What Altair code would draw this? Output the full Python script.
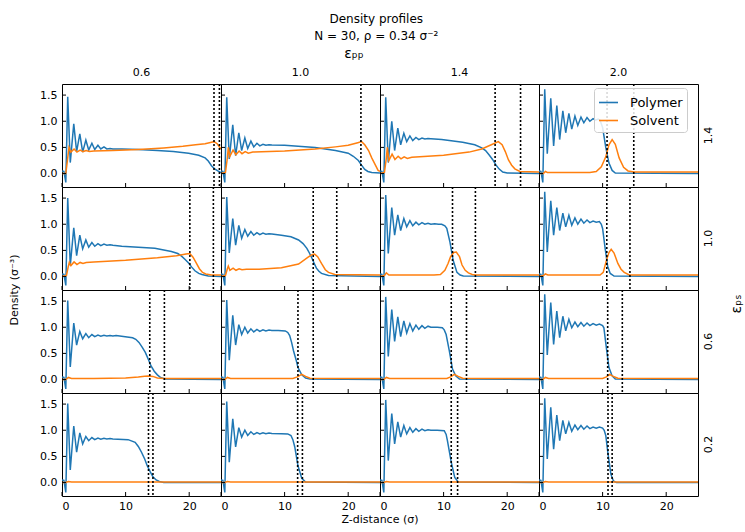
import altair as alt
import pandas as pd

PP = ["0.6", "1.0", "1.4", "2.0"]          # columns: epsilon_pp
PS = ["1.4", "1.0", "0.6", "0.2"]          # rows: epsilon_ps
SERIES = ["Polymer", "Solvent"]
COLORS = ["#1f77b4", "#ff7f0e"]
X_TICKS = [0, 10, 20]
Y_TICKS = [0.0, 0.5, 1.0, 1.5]

# near-wall z grid shared by all polymer profiles (peaks / troughs)
WALL_Z = [0.0, 0.3, 0.6, 0.9, 1.3, 1.85, 2.3, 2.8, 3.25, 3.75, 4.2, 4.7, 5.15, 5.65, 6.1, 6.6, 7.05, 7.55, 8.0]

POLY_WALL = {
    "1.4|0.6": [0.05, 0.04, -0.17, 1.47, 0.21, 0.95, 0.42, 0.76, 0.41, 0.64, 0.45, 0.58, 0.46, 0.54, 0.47, 0.51, 0.47, 0.48, 0.47],
    "1.4|1.0": [0.05, 0.04, -0.17, 1.46, 0.28, 0.93, 0.34, 0.78, 0.44, 0.68, 0.48, 0.62, 0.51, 0.58, 0.53, 0.56, 0.54, 0.55, 0.545],
    "1.4|1.4": [0.05, 0.04, -0.17, 1.46, 0.21, 1.00, 0.44, 0.87, 0.55, 0.77, 0.61, 0.72, 0.63, 0.69, 0.65, 0.68, 0.66, 0.67, 0.665],
    "1.4|2.0": [0.05, 0.04, -0.17, 1.61, 0.38, 1.44, 0.53, 1.30, 0.65, 1.20, 0.78, 1.15, 0.85, 1.10, 0.92, 1.08, 0.97, 1.07, 1.00],
    "1.0|0.6": [0.05, 0.04, -0.17, 1.50, 0.21, 0.93, 0.40, 0.79, 0.53, 0.70, 0.56, 0.65, 0.58, 0.63, 0.59, 0.62, 0.60, 0.61, 0.60],
    "1.0|1.0": [0.05, 0.04, -0.17, 1.52, 0.45, 1.11, 0.60, 0.98, 0.73, 0.90, 0.77, 0.86, 0.79, 0.84, 0.80, 0.83, 0.81, 0.82, 0.815],
    "1.0|1.4": [0.05, 0.04, -0.17, 1.56, 0.44, 1.32, 0.79, 1.18, 0.88, 1.11, 0.95, 1.07, 0.97, 1.04, 0.99, 1.03, 1.00, 1.02, 1.00],
    "1.0|2.0": [0.05, 0.04, -0.17, 1.62, 0.47, 1.45, 0.79, 1.32, 0.88, 1.21, 0.95, 1.17, 0.98, 1.12, 1.00, 1.10, 1.02, 1.08, 1.03],
    "0.6|0.6": [0.05, 0.04, -0.18, 1.51, 0.24, 1.08, 0.66, 0.92, 0.78, 0.88, 0.80, 0.86, 0.82, 0.85, 0.83, 0.845, 0.835, 0.84, 0.835],
    "0.6|1.0": [0.05, 0.04, -0.18, 1.52, 0.37, 1.23, 0.66, 1.05, 0.86, 1.00, 0.89, 0.97, 0.91, 0.96, 0.92, 0.95, 0.93, 0.945, 0.94],
    "0.6|1.4": [0.05, 0.04, -0.18, 1.58, 0.44, 1.34, 0.73, 1.20, 0.82, 1.12, 0.89, 1.07, 0.93, 1.04, 0.96, 1.03, 0.98, 1.02, 1.00],
    "0.6|2.0": [0.05, 0.04, -0.18, 1.63, 0.47, 1.47, 0.67, 1.31, 0.80, 1.21, 0.93, 1.15, 0.99, 1.10, 1.01, 1.09, 1.02, 1.08, 1.03],
    "0.2|0.6": [0.05, 0.04, -0.19, 1.51, 0.24, 1.08, 0.58, 0.95, 0.74, 0.88, 0.80, 0.86, 0.82, 0.85, 0.83, 0.845, 0.835, 0.84, 0.835],
    "0.2|1.0": [0.05, 0.04, -0.19, 1.55, 0.39, 1.22, 0.68, 1.05, 0.87, 1.00, 0.90, 0.97, 0.92, 0.955, 0.93, 0.95, 0.935, 0.945, 0.94],
    "0.2|1.4": [0.05, 0.04, -0.19, 1.58, 0.42, 1.32, 0.74, 1.16, 0.87, 1.09, 0.93, 1.05, 0.96, 1.03, 0.98, 1.02, 0.99, 1.01, 1.00],
    "0.2|2.0": [0.05, 0.04, -0.19, 1.61, 0.45, 1.44, 0.64, 1.29, 0.80, 1.19, 0.93, 1.15, 0.98, 1.10, 1.01, 1.09, 1.02, 1.08, 1.03],
}

POLY_TAIL_Z = {
    "1.4|0.6": [9.4, 12, 15, 17.5, 19.9, 21.5, 22.5, 23.0, 23.5, 24.0, 24.5, 25.0],
    "1.4|1.0": [10, 14.8, 18, 20.0, 20.8, 21.6, 22.1, 22.6, 23.1, 23.7, 25],
    "1.4|1.4": [9.7, 13, 14.9, 16.0, 16.6, 17.2, 17.7, 18.2, 18.7, 19.3, 20, 25],
    "1.4|2.0": [8.5, 8.9, 9.3, 9.6, 10.0, 10.5, 11.0, 11.5, 12.0, 25],
    "1.0|0.6": [9.4, 14.6, 17.2, 18.2, 18.8, 19.4, 19.9, 20.4, 20.9, 21.5, 22.0, 23.0, 25],
    "1.0|1.0": [9.5, 11, 12.2, 12.9, 13.5, 13.9, 14.3, 14.7, 15.0, 15.4, 15.8, 16.9, 25],
    "1.0|1.4": [8.6, 9.2, 9.7, 10.2, 10.5, 11.0, 11.5, 12.1, 12.6, 13.1, 25],
    "1.0|2.0": [8.5, 9.0, 9.5, 9.8, 10.0, 10.4, 10.8, 11.2, 11.8, 25],
    "0.6|0.6": [8.5, 11.1, 11.6, 12.1, 12.6, 13.1, 13.6, 14.0, 14.5, 15.0, 15.5, 16.2, 25],
    "0.6|1.0": [9.0, 10.1, 10.5, 10.8, 11.1, 11.4, 11.8, 12.1, 12.7, 13.3, 14.0, 25],
    "0.6|1.4": [9.0, 9.8, 10.1, 10.4, 10.9, 11.4, 11.9, 12.5, 25],
    "0.6|2.0": [8.5, 9.0, 9.5, 10.0, 10.2, 10.6, 11.0, 11.5, 12.0, 25],
    "0.2|0.6": [10.4, 11.5, 12.0, 12.5, 13.0, 13.4, 13.9, 14.3, 14.8, 15.3, 16.0, 25],
    "0.2|1.0": [9.5, 10.5, 11.0, 11.3, 11.6, 12.1, 12.7, 13.3, 25],
    "0.2|1.4": [9.0, 10.1, 10.4, 10.6, 11.2, 11.75, 12.3, 25],
    "0.2|2.0": [8.5, 9.0, 9.5, 10.0, 10.25, 10.5, 10.85, 11.3, 11.7, 12.2, 25],
}
POLY_TAIL_D = {
    "1.4|0.6": [0.47, 0.46, 0.44, 0.42, 0.39, 0.35, 0.30, 0.24, 0.15, 0.09, 0.05, 0.02],
    "1.4|1.0": [0.54, 0.50, 0.44, 0.39, 0.33, 0.25, 0.16, 0.08, 0.04, 0.02, 0.01],
    "1.4|1.4": [0.65, 0.60, 0.55, 0.49, 0.44, 0.35, 0.27, 0.17, 0.09, 0.03, 0.01, 0.0],
    "1.4|2.0": [1.05, 1.02, 1.04, 1.02, 0.88, 0.50, 0.20, 0.06, 0.01, 0.0],
    "1.0|0.6": [0.58, 0.54, 0.48, 0.44, 0.39, 0.32, 0.26, 0.18, 0.11, 0.06, 0.04, 0.01, 0.0],
    "1.0|1.0": [0.79, 0.76, 0.70, 0.63, 0.54, 0.45, 0.35, 0.24, 0.16, 0.10, 0.06, 0.02, 0.0],
    "1.0|1.4": [1.01, 1.0, 1.0, 0.97, 0.92, 0.66, 0.31, 0.08, 0.03, 0.01, 0.0],
    "1.0|2.0": [1.06, 1.04, 1.05, 1.0, 0.92, 0.54, 0.19, 0.06, 0.01, 0.0],
    "0.6|0.6": [0.84, 0.80, 0.77, 0.71, 0.62, 0.52, 0.38, 0.26, 0.16, 0.09, 0.04, 0.01, 0.0],
    "0.6|1.0": [0.94, 0.93, 0.90, 0.84, 0.71, 0.55, 0.38, 0.23, 0.09, 0.03, 0.01, 0.0],
    "0.6|1.4": [1.0, 0.99, 0.95, 0.86, 0.55, 0.20, 0.07, 0.01, 0.0],
    "0.6|2.0": [1.07, 1.04, 1.06, 1.03, 0.99, 0.60, 0.23, 0.07, 0.01, 0.0],
    "0.2|0.6": [0.82, 0.77, 0.69, 0.58, 0.45, 0.32, 0.20, 0.11, 0.05, 0.02, 0.0, 0.0],
    "0.2|1.0": [0.935, 0.93, 0.90, 0.82, 0.68, 0.32, 0.08, 0.01, 0.0],
    "0.2|1.4": [1.0, 0.99, 0.92, 0.80, 0.39, 0.10, 0.01, 0.0],
    "0.2|2.0": [1.06, 1.04, 1.06, 1.04, 1.0, 0.90, 0.55, 0.16, 0.03, 0.0, 0.0],
}

SOLV_Z = {
    "1.4|0.6": [0, 0.6, 0.9, 1.1, 1.4, 1.9, 2.35, 2.85, 3.3, 3.8, 4.3, 5, 8, 12, 16, 19, 21, 22.5, 23.5, 23.9, 24.4, 25],
    "1.4|1.0": [0, 0.7, 1.0, 1.15, 1.4, 1.9, 2.35, 2.85, 3.3, 3.8, 4.3, 5, 10, 14.8, 18, 20, 21.5, 22.1, 22.6, 23.2, 23.7, 24.2, 24.7, 25],
    "1.4|1.4": [0, 0.7, 1.0, 1.15, 1.4, 1.9, 2.35, 2.85, 3.3, 3.8, 4.3, 5, 10, 14, 16, 17.5, 18.6, 19.2, 19.7, 20.2, 20.7, 21.2, 22.0, 25],
    "1.4|2.0": [0, 0.7, 1.0, 1.3, 8.0, 9.0, 9.8, 10.5, 11.0, 11.5, 12.0, 12.6, 13.3, 14.0, 15, 25],
    "1.0|0.6": [0, 0.7, 1.0, 1.15, 1.4, 1.9, 2.35, 2.85, 3.3, 3.8, 5, 10, 15, 18, 19.5, 20.1, 20.6, 21.1, 21.6, 22.1, 22.6, 23.5, 25],
    "1.0|1.0": [0, 0.7, 1.0, 1.15, 1.4, 1.9, 2.35, 2.85, 3.3, 4, 6, 9.5, 12.2, 13.7, 14.3, 14.7, 15.2, 15.8, 16.4, 16.9, 17.9, 25],
    "1.0|1.4": [0, 0.7, 1.0, 1.4, 8.5, 9.5, 10.2, 10.7, 11.1, 11.6, 12.0, 12.5, 12.9, 13.4, 13.9, 14.5, 15, 25],
    "1.0|2.0": [0, 0.7, 1.0, 1.4, 9.6, 10.1, 10.6, 11.0, 11.35, 11.8, 12.4, 12.9, 13.4, 14.2, 25],
    "0.6|0.6": [0, 0.6, 1.0, 1.5, 5, 10, 12.0, 13.0, 13.6, 14.3, 15.0, 16.0, 25],
    "0.6|1.0": [0, 0.6, 1.0, 1.5, 11.3, 12.0, 12.7, 13.3, 14.0, 25],
    "0.6|1.4": [0, 0.6, 1.0, 1.5, 10.5, 11.1, 11.7, 12.3, 13.0, 25],
    "0.6|2.0": [0, 0.6, 1.0, 1.5, 10.0, 10.6, 11.1, 11.7, 12.4, 25],
    "0.2|0.6": [0, 0.6, 1.0, 1.5, 25],
    "0.2|1.0": [0, 0.6, 1.0, 1.5, 25],
    "0.2|1.4": [0, 0.6, 1.0, 1.5, 25],
    "0.2|2.0": [0, 0.6, 1.0, 1.5, 25],
}
SOLV_D = {
    "1.4|0.6": [0.0, 0.0, 0.3, 0.5, 0.41, 0.47, 0.41, 0.45, 0.42, 0.44, 0.42, 0.43, 0.44, 0.46, 0.49, 0.52, 0.55, 0.57, 0.60, 0.61, 0.57, 0.47],
    "1.4|1.0": [0.0, 0.02, 0.3, 0.5, 0.33, 0.45, 0.36, 0.43, 0.38, 0.42, 0.39, 0.41, 0.43, 0.47, 0.51, 0.54, 0.59, 0.61, 0.55, 0.44, 0.30, 0.18, 0.06, 0.04],
    "1.4|1.4": [0.0, 0.02, 0.3, 0.5, 0.25, 0.37, 0.27, 0.33, 0.28, 0.32, 0.29, 0.31, 0.35, 0.41, 0.47, 0.55, 0.61, 0.55, 0.42, 0.26, 0.16, 0.09, 0.04, 0.03],
    "1.4|2.0": [0.0, 0.0, 0.04, 0.02, 0.02, 0.04, 0.13, 0.32, 0.55, 0.65, 0.56, 0.30, 0.12, 0.05, 0.03, 0.03],
    "1.0|0.6": [0.0, 0.02, 0.2, 0.27, 0.21, 0.28, 0.23, 0.27, 0.25, 0.27, 0.28, 0.31, 0.36, 0.40, 0.43, 0.44, 0.37, 0.26, 0.15, 0.08, 0.05, 0.03, 0.03],
    "1.0|1.0": [0.0, 0.02, 0.15, 0.2, 0.12, 0.16, 0.12, 0.15, 0.13, 0.14, 0.14, 0.17, 0.24, 0.37, 0.42, 0.43, 0.38, 0.25, 0.13, 0.08, 0.04, 0.03],
    "1.0|1.4": [0.0, 0.02, 0.07, 0.03, 0.03, 0.04, 0.12, 0.25, 0.38, 0.46, 0.47, 0.38, 0.22, 0.12, 0.07, 0.04, 0.03, 0.03],
    "1.0|2.0": [0.0, 0.02, 0.05, 0.03, 0.03, 0.08, 0.31, 0.46, 0.52, 0.45, 0.25, 0.14, 0.08, 0.03, 0.03],
    "0.6|0.6": [0.0, 0.0, 0.04, 0.02, 0.02, 0.03, 0.05, 0.065, 0.07, 0.06, 0.03, 0.02, 0.02],
    "0.6|1.0": [0.0, 0.0, 0.04, 0.02, 0.02, 0.05, 0.10, 0.06, 0.025, 0.02],
    "0.6|1.4": [0.0, 0.0, 0.04, 0.02, 0.02, 0.05, 0.10, 0.06, 0.025, 0.02],
    "0.6|2.0": [0.0, 0.0, 0.04, 0.02, 0.02, 0.05, 0.10, 0.06, 0.025, 0.02],
    "0.2|0.6": [0.0, 0.0, 0.02, 0.01, 0.01],
    "0.2|1.0": [0.0, 0.0, 0.02, 0.01, 0.01],
    "0.2|1.4": [0.0, 0.0, 0.02, 0.01, 0.01],
    "0.2|2.0": [0.0, 0.0, 0.02, 0.01, 0.01],
}

VLINES = {
    "1.4|0.6": [23.9, 24.75], "1.4|1.0": [22.0], "1.4|1.4": [18.1, 22.1], "1.4|2.0": [10.7, 14.9],
    "1.0|0.6": [20.1, 23.8], "1.0|1.0": [14.5, 18.2], "1.0|1.4": [11.4, 15.0], "1.0|2.0": [10.66, 14.3],
    "0.6|0.6": [13.8, 16.1], "0.6|1.0": [12.1, 14.5], "0.6|1.4": [11.2, 13.6], "0.6|2.0": [10.8, 13.1],
    "0.2|0.6": [13.6, 14.3], "0.2|1.0": [12.05, 12.8], "0.2|1.4": [11.2, 12.2], "0.2|2.0": [10.85, 11.5],
}

rows = []
for ps in PS:
    for pp in PP:
        k = f"{ps}|{pp}"
        zs = WALL_Z + POLY_TAIL_Z[k]
        ds = POLY_WALL[k] + POLY_TAIL_D[k]
        for z, d in zip(zs, ds):
            rows.append(dict(ps=ps, pp=pp, kind="poly", series="Polymer", z=z, d=d, label=""))
        for z, d in zip(SOLV_Z[k], SOLV_D[k]):
            rows.append(dict(ps=ps, pp=pp, kind="solv", series="Solvent", z=z, d=d, label=""))
        for z in VLINES[k]:
            rows.append(dict(ps=ps, pp=pp, kind="vline", series="", z=z, d=0.0, label=""))
        for t in X_TICKS:
            rows.append(dict(ps=ps, pp=pp, kind="xtick", series="", z=t, d=0.0, label=""))
        for t in Y_TICKS:
            rows.append(dict(ps=ps, pp=pp, kind="ytick", series="", z=0.0, d=t, label=""))
rows.append(dict(ps="1.0", pp="0.6", kind="ytitle", series="", z=0.0, d=0.0, label="Density (σ⁻³)"))
rows.append(dict(ps="0.2", pp="1.0", kind="xtitle", series="", z=0.0, d=0.0, label="Z-distance (σ)"))
df = pd.DataFrame(rows)

W, H = 159, 103
xs = alt.Scale(domain=[0, 25], nice=False, zero=False)
ys = alt.Scale(domain=[-0.257, 1.712], nice=False, zero=False)
xaxis = alt.Axis(title=None, values=X_TICKS, format="d", ticks=False, domain=False, grid=False,
                 labelFontSize=11, labelPadding=4, labelColor="black")
yaxis = alt.Axis(title=None, values=Y_TICKS, format=".1f", ticks=False, domain=False, grid=False,
                 labelFontSize=11, labelPadding=5, labelColor="black")

color = alt.Color("series:N", scale=alt.Scale(domain=SERIES, range=COLORS),
                  legend=alt.Legend(title=None, orient="none", legendX=532, legendY=4,
                                    symbolType="stroke", symbolSize=361, symbolStrokeWidth=1.6,
                                    labelFontSize=13, labelOffset=11, labelColor="black",
                                    fillColor="rgba(255,255,255,0.85)",
                                    strokeColor="#cccccc", padding=4, cornerRadius=3, rowPadding=-2))

base = alt.Chart()
poly = base.mark_line(strokeWidth=1.5, clip=True).encode(
    x=alt.X("z:Q", scale=xs, axis=xaxis), y=alt.Y("d:Q", scale=ys, axis=yaxis), color=color
).transform_filter(alt.datum.kind == "poly")
solv = base.mark_line(strokeWidth=1.5, clip=True).encode(
    x=alt.X("z:Q", scale=xs, axis=xaxis), y=alt.Y("d:Q", scale=ys, axis=yaxis), color=color
).transform_filter(alt.datum.kind == "solv")
vline = base.mark_rule(color="black", strokeWidth=1.6, strokeDash=[2, 2]).encode(
    x=alt.X("z:Q", scale=xs, axis=xaxis)
).transform_filter(alt.datum.kind == "vline")
xtick = base.mark_rule(color="black", strokeWidth=1).encode(
    x=alt.X("z:Q", scale=xs, axis=xaxis), y=alt.value(H), y2=alt.value(H - 4)
).transform_filter(alt.datum.kind == "xtick")
ytick = base.mark_rule(color="black", strokeWidth=1).encode(
    y=alt.Y("d:Q", scale=ys, axis=yaxis), x=alt.value(0), x2=alt.value(4)
).transform_filter(alt.datum.kind == "ytick")
ytitle = base.mark_text(angle=270, fontSize=11, baseline="middle", align="center", color="black").encode(
    x=alt.value(-47), y=alt.value(H), text="label:N"
).transform_filter(alt.datum.kind == "ytitle")
xtitle = base.mark_text(fontSize=11, baseline="middle", align="center", color="black").encode(
    x=alt.value(W), y=alt.value(H + 24), text="label:N"
).transform_filter(alt.datum.kind == "xtitle")

layered = alt.layer(poly, solv, vline, xtick, ytick, ytitle, xtitle, data=df).properties(width=W, height=H)

chart = layered.facet(
    row=alt.Row("ps:N", sort=PS, header=alt.Header(title="εₚₛ", labelOrient="right", titleOrient="right",
                                                    labelAngle=270, titleAngle=270, labelFontSize=11,
                                                    titleFontSize=14, titleFontWeight="normal",
                                                    labelPadding=5, titlePadding=6, labelColor="black")),
    column=alt.Column("pp:N", sort=PP, header=alt.Header(title="εₚₚ", titleFontSize=14, titleFontWeight="normal",
                                                         labelFontSize=11, labelPadding=6, titlePadding=-4,
                                                         labelColor="black")),
    spacing=0,
    bounds="flush",
    title=alt.TitleParams(text=["Density profiles", "N = 30, ρ = 0.34 σ⁻²"], fontSize=12,
                          fontWeight="normal", anchor="middle", offset=4, lineHeight=17, color="black"),
).properties(padding={"left": 8, "right": 0, "top": 13, "bottom": 2}).configure(
    font="DejaVu Sans"
).configure_view(stroke="black", strokeWidth=1)

chart.save("out.html", embed_options={"renderer": "svg", "actions": False})
